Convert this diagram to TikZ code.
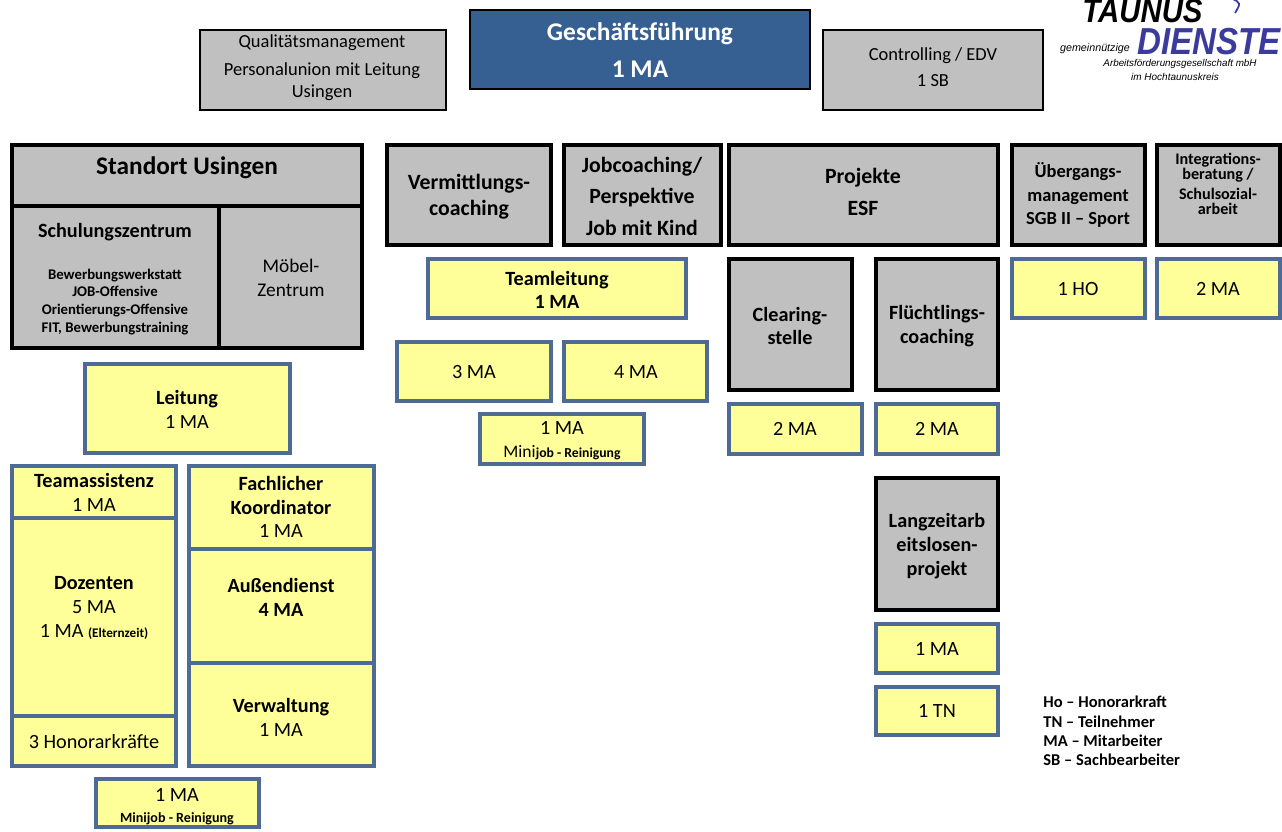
\documentclass[tikz,border=0pt]{standalone}
\usepackage{fontspec}
\setmainfont{Carlito}
\newfontfamily\logofont{Liberation Sans}
\usepackage{tikz}
\usepackage{xcolor}
\usepackage{graphicx}

\definecolor{boxgrey}{HTML}{C0C0C0}
\definecolor{boxyellow}{HTML}{FFFF99}
\definecolor{frameblue}{HTML}{4E6B96}
\definecolor{chiefblue}{HTML}{376092}
\definecolor{logoblue}{HTML}{3B3B9B}

\newcommand{\setfs}[2]{\fontsize{#1}{#2}\selectfont}

\tikzset{
  topbox/.style={draw=black, line width=1.6pt, fill=boxgrey},
  greybox/.style={draw=black, line width=2.2pt, fill=boxgrey},
  staffbox/.style={draw=frameblue, line width=2.2pt, fill=boxyellow},
  boldtext/.style={align=center, inner sep=0pt, font=\bfseries\setfs{11.5}{13.6}},
  normtext/.style={align=center, inner sep=0pt, font=\setfs{11.5}{13.6}},
}

\begin{document}
\begin{tikzpicture}[x=0.02cm, y=-0.02cm]
        \useasboundingbox (0,0) rectangle (1282,832);

        % Draw the top row
        \draw[topbox] (200,30) rectangle (446,110);
        \node[normtext, font=\setfs{10.5}{12.6}] (qm) at (322,68) {Qualitätsmanagement\\[3.3pt]Personalunion mit Leitung\\Usingen};
        \draw[topbox, fill=chiefblue] (470,10) rectangle (810,89);
        \node[boldtext, text=white, font=\bfseries\setfs{14.5}{17.5}] (gf) at (640,50) {Geschäftsführung\\[3.5pt]1 MA};
        \draw[topbox] (823,30) rectangle (1043,110);
        \node[normtext, font=\setfs{10.5}{12.6}] (ctrl) at (933,67) {Controlling / EDV\\[2pt]1 SB};

        % Draw the logo
        \node[anchor=base west, inner sep=0pt, font=\logofont\bfseries\itshape\setfs{19}{19}] (taunus) at (1082,22) {\scalebox{0.88}[1]{TAUNUS}};
        \node[anchor=base west, inner sep=0pt, text=logoblue, font=\logofont\bfseries\itshape\setfs{21.4}{21.4}] (dienste) at (1137,54) {\scalebox{0.88}[1]{DIENSTE}};
        \node[inner sep=0pt, font=\logofont\itshape\setfs{6.1}{7}] (gemein) at (1095,49) {gemeinnützige};
        \node[inner sep=0pt, font=\logofont\itshape\setfs{5.6}{7}] (agmbh) at (1180,64) {Arbeitsförderungsgesellschaft mbH};
        \node[inner sep=0pt, font=\logofont\itshape\setfs{5.7}{7}] (hochtaunus) at (1175,77) {im Hochtaunuskreis};
        \draw[logoblue, line width=1pt] (1231,-2) .. controls (1241,3) .. (1235,13);

        % Draw Standort Usingen
        \draw[greybox] (12,145) rectangle (362,206);
        \draw[greybox] (12,206) rectangle (219,348);
        \draw[greybox] (219,206) rectangle (362,348);
        \node[boldtext, font=\bfseries\setfs{14.4}{17}] (usingen) at (187,168) {Standort Usingen};
        \node[boldtext] (schulung) at (115,232) {Schulungszentrum};
        \node[boldtext, font=\bfseries\setfs{8.4}{10.2}] (kurse) at (115,302) {Bewerbungswerkstatt\\JOB-Offensive\\Orientierungs-Offensive\\FIT, Bewerbungstraining};
        \node[normtext, font=\setfs{11}{13.6}] (moebel) at (291,278) {Möbel-\\Zentrum};

        % Draw the staff of Usingen
        \draw[staffbox] (85,364) rectangle (290,453);
        \node[normtext] (leitung) at (187,409) {\textbf{Leitung}\\1 MA};
        \draw[staffbox] (12,466) rectangle (176,518);
        \draw[staffbox] (12,518) rectangle (176,716);
        \draw[staffbox] (12,716) rectangle (176,766);
        \node[normtext] (teamassistenz) at (94,492) {\textbf{Teamassistenz}\\1 MA};
        \node[normtext] (dozenten) at (94,608) {\textbf{Dozenten}\\5 MA\\1 MA {\bfseries\setfs{7.5}{9}(Elternzeit)}};
        \node[normtext] (honorar) at (94,742) {3 Honorarkräfte};
        \draw[staffbox] (189,466) rectangle (374,549);
        \draw[staffbox] (189,549) rectangle (374,663);
        \draw[staffbox] (189,663) rectangle (374,766);
        \node[normtext] (koordinator) at (281,507) {\textbf{Fachlicher}\\\textbf{Koordinator}\\1 MA};
        \node[boldtext] (aussendienst) at (281,597) {Außendienst\\4 MA};
        \node[normtext] (verwaltung) at (281,717) {\textbf{Verwaltung}\\1 MA};
        \draw[staffbox] (96,779) rectangle (259,827);
        \node[normtext, font=\setfs{11.5}{12}] (minijob) at (177,807) {1 MA\\{\bfseries\setfs{8}{9}Minijob - Reinigung}};

        % Draw the coaching columns
        \draw[greybox] (387,145) rectangle (551,245);
        \node[boldtext, font=\bfseries\setfs{12.4}{14.7}] (vermittlung) at (469,197) {Vermittlungs-\\coaching};
        \draw[greybox] (564,145) rectangle (721,245);
        \node[boldtext, font=\bfseries\setfs{12.4}{17.9}] (jobcoach) at (642,196) {Jobcoaching/\\Perspektive\\Job mit Kind};
        \draw[staffbox] (428,259) rectangle (686,318);
        \node[boldtext, font=\bfseries\setfs{11.5}{13}] (teamleitung) at (557,290) {Teamleitung\\1 MA};
        \draw[staffbox] (397,342) rectangle (551,401);
        \node[normtext] (vermma) at (474,372) {3 MA};
        \draw[staffbox] (564,342) rectangle (707,401);
        \node[normtext] (jobma) at (636,372) {4 MA};
        \draw[staffbox] (480,414) rectangle (644,464);
        \node[normtext, font=\setfs{11.5}{13}] (minijobmid) at (562,441) {1 MA\\{\setfs{10}{12}Mini}{\bfseries\setfs{7.8}{9}job - Reinigung}};

        % Draw the projects
        \draw[greybox] (729,145) rectangle (998,245);
        \node[boldtext, font=\bfseries\setfs{12.4}{18.5}] (projekte) at (863,192) {Projekte\\ESF};
        \draw[greybox] (729,259) rectangle (852,390);
        \node[boldtext] (clearing) at (790,326) {Clearing-\\stelle};
        \draw[greybox] (876,259) rectangle (998,390);
        \node[boldtext] (fluechtling) at (937,326) {Flüchtlings-\\coaching};
        \draw[staffbox] (729,404) rectangle (862,454);
        \node[normtext] (clearingma) at (795,429) {2 MA};
        \draw[staffbox] (876,404) rectangle (998,454);
        \node[normtext] (fluechtlingma) at (937,429) {2 MA};
        \draw[greybox] (876,478) rectangle (998,610);
        \node[boldtext] (langzeit) at (937,546) {Langzeitarb\\eitslosen-\\projekt};
        \draw[staffbox] (876,624) rectangle (998,673);
        \node[normtext] (langzeitma) at (937,649) {1 MA};
        \draw[staffbox] (876,687) rectangle (998,735);
        \node[normtext] (langzeittn) at (937,711) {1 TN};

        % Draw the right columns
        \draw[greybox] (1012,145) rectangle (1145,245);
        \node[boldtext, font=\bfseries\setfs{10.5}{13.6}] (uebergang) at (1078,195) {Übergangs-\\management\\SGB II – Sport};
        \draw[greybox] (1157,145) rectangle (1280,245);
        \node[boldtext, font=\bfseries\setfs{9.2}{8.6}] (integration) at (1218,184) {Integrations-\\beratung /\\[3pt]Schulsozial-\\arbeit};
        \draw[staffbox] (1012,259) rectangle (1145,318);
        \node[normtext] (uebergangho) at (1078,289) {1 HO};
        \draw[staffbox] (1157,259) rectangle (1280,318);
        \node[normtext] (integrationma) at (1218,289) {2 MA};

        % Draw the legend
        \node[align=left, inner sep=0pt, anchor=west, font=\bfseries\setfs{9.4}{11}] (legende) at (1043,731) {Ho – Honorarkraft\\TN – Teilnehmer\\MA – Mitarbeiter\\SB – Sachbearbeiter};
    \end{tikzpicture}
\end{document}
